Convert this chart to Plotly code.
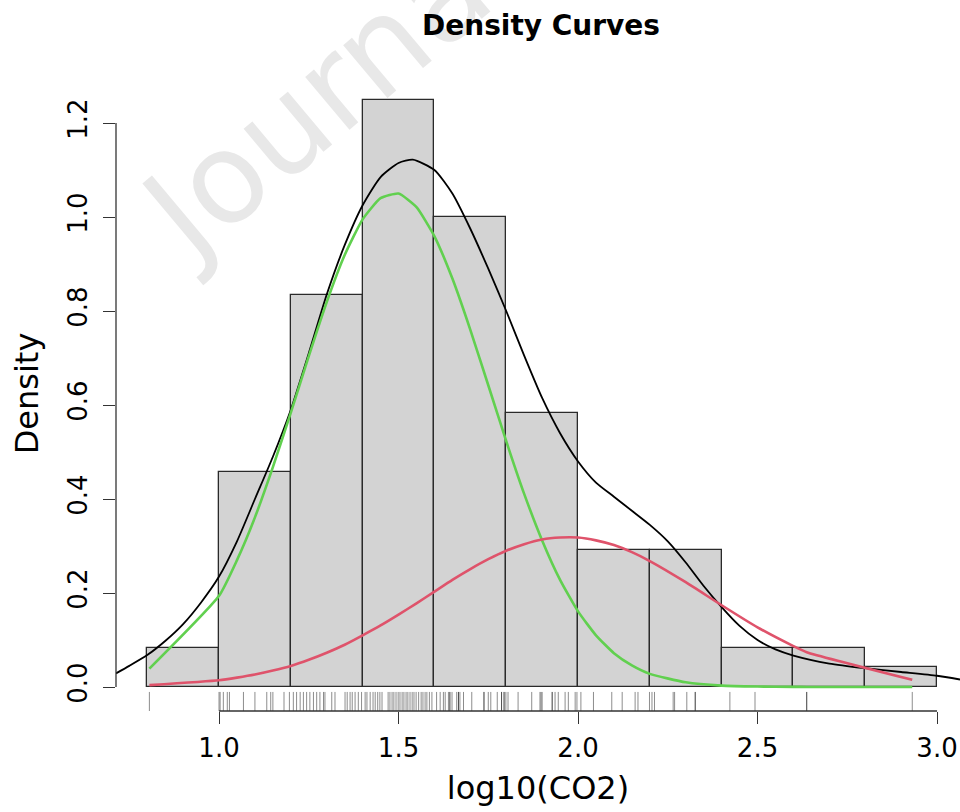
import plotly.graph_objects as go

# ---------------- data ----------------
bin_edges = [0.8, 1.0, 1.2, 1.4, 1.6, 1.8, 2.0, 2.2, 2.4, 2.6, 2.8, 3.0]
bin_density = [0.0833, 0.4583, 0.8333, 1.25, 1.0, 0.5833, 0.2917, 0.2917, 0.0833, 0.0833, 0.0417]

rug_values = [
    0.806, 1.000,
    1.003, 1.012, 1.023, 1.029, 1.068, 1.100, 1.133, 1.144, 1.150, 1.181, 1.196,
    1.207, 1.216, 1.226, 1.235, 1.244, 1.253, 1.263, 1.272, 1.281, 1.291, 1.295,
    1.314, 1.323, 1.351, 1.357, 1.365, 1.371, 1.379, 1.388, 1.397,
    1.407, 1.412, 1.421, 1.429, 1.435, 1.442, 1.448, 1.454, 1.471, 1.476, 1.482,
    1.487, 1.493, 1.499, 1.504, 1.510, 1.515, 1.521, 1.526, 1.532, 1.538, 1.543,
    1.549, 1.556, 1.563, 1.568, 1.574, 1.579, 1.586, 1.593,
    1.606, 1.616, 1.625, 1.630, 1.639, 1.643, 1.643, 1.649, 1.662, 1.667, 1.667,
    1.671, 1.681, 1.704, 1.738, 1.738, 1.750, 1.757, 1.775, 1.787, 1.787, 1.794,
    1.794, 1.799,
    1.805, 1.833, 1.871, 1.894, 1.897, 1.900, 1.928, 1.928, 1.936, 1.945, 1.964,
    1.973, 1.992, 1.997,
    2.008, 2.043, 2.094, 2.123, 2.159, 2.167, 2.199,
    2.206, 2.213, 2.265, 2.269, 2.303, 2.326, 2.327,
    2.423, 2.493, 2.637, 2.637, 2.931,
]

kde_x = [0.713, 0.75, 0.8, 0.85, 0.9, 0.95, 1.0, 1.05, 1.1, 1.15, 1.2, 1.25, 1.3,
         1.35, 1.4, 1.45, 1.5, 1.54, 1.6, 1.65, 1.7, 1.75, 1.8, 1.85, 1.9, 1.95,
         2.0, 2.05, 2.1, 2.15, 2.2, 2.25, 2.3, 2.35, 2.4, 2.45, 2.5, 2.55, 2.6,
         2.7, 2.8, 2.9, 3.0, 3.064]
kde_y = [0.029, 0.045, 0.068, 0.098, 0.134, 0.180, 0.235, 0.310, 0.400, 0.490,
         0.590, 0.710, 0.835, 0.940, 1.025, 1.085, 1.115, 1.122, 1.100, 1.050,
         0.975, 0.890, 0.800, 0.705, 0.615, 0.540, 0.480, 0.435, 0.405, 0.375,
         0.345, 0.310, 0.265, 0.215, 0.170, 0.130, 0.100, 0.080, 0.067, 0.050,
         0.040, 0.032, 0.024, 0.016]

comp_x = [0.806, 1.0, 1.05, 1.1, 1.15, 1.2, 1.25, 1.3, 1.35, 1.4, 1.45, 1.5, 1.55,
          1.6, 1.65, 1.7, 1.75, 1.8, 1.85, 1.9, 1.95, 2.0, 2.05, 2.1, 2.15, 2.2,
          2.3, 2.4, 2.5, 2.6, 2.637, 2.931]
green_y = [0.039, 0.194, 0.270, 0.361, 0.468, 0.584, 0.704, 0.819, 0.919, 0.995,
           1.040, 1.050, 1.021, 0.959, 0.869, 0.760, 0.642, 0.523, 0.411, 0.312,
           0.228, 0.161, 0.110, 0.072, 0.046, 0.028, 0.010, 0.003, 0.001, 0.0003,
           0.0002, 0.0]
red_y = [0.004, 0.0145, 0.020, 0.0265, 0.035, 0.045, 0.058, 0.073, 0.090, 0.110,
         0.131, 0.154, 0.178, 0.203, 0.228, 0.251, 0.272, 0.290, 0.304, 0.314,
         0.318, 0.318, 0.312, 0.302, 0.287, 0.268, 0.223, 0.174, 0.127, 0.087,
         0.074, 0.0153]

x_ticks = [1.0, 1.5, 2.0, 2.5, 3.0]
x_tick_labels = ["1.0", "1.5", "2.0", "2.5", "3.0"]
y_ticks = [0.0, 0.2, 0.4, 0.6, 0.8, 1.0, 1.2]
y_tick_labels = ["0.0", "0.2", "0.4", "0.6", "0.8", "1.0", "1.2"]

# ---------------- figure ----------------
FONT = "DejaVu Sans"
X_RANGE = [0.713, 3.064]
Y_RANGE = [-0.051, 1.30]

centers = [(a + b) / 2 for a, b in zip(bin_edges[:-1], bin_edges[1:])]
widths = [b - a for a, b in zip(bin_edges[:-1], bin_edges[1:])]

fig = go.Figure()
fig.add_trace(go.Bar(x=centers, y=bin_density, width=widths,
                     marker=dict(color="#d3d3d3", line=dict(color="#2a2a2a", width=1.3)),
                     showlegend=False, hoverinfo="skip"))

rug_y0 = Y_RANGE[0]
rug_y1 = Y_RANGE[0] + 0.03 * (Y_RANGE[1] - Y_RANGE[0])
rx, ry = [], []
for v in rug_values:
    rx += [v, v, None]
    ry += [rug_y0, rug_y1, None]
fig.add_trace(go.Scatter(x=rx, y=ry, mode="lines",
                         line=dict(color="rgba(0,0,0,0.45)", width=1),
                         showlegend=False, hoverinfo="skip"))

fig.add_trace(go.Scatter(x=kde_x, y=kde_y, mode="lines",
                         line=dict(color="black", width=1.8, shape="spline", smoothing=0.6),
                         showlegend=False))
fig.add_trace(go.Scatter(x=comp_x, y=green_y, mode="lines",
                         line=dict(color="#61D04F", width=2.6, shape="spline", smoothing=0.5),
                         showlegend=False))
fig.add_trace(go.Scatter(x=comp_x, y=red_y, mode="lines",
                         line=dict(color="#DF536B", width=2.6, shape="spline", smoothing=0.5),
                         showlegend=False))

# R-style axis lines spanning only the tick range
fig.add_shape(type="line", xref="x", yref="paper", x0=x_ticks[0], x1=x_ticks[-1],
              y0=0, y1=0, line=dict(color="#333", width=1.3))
fig.add_shape(type="line", xref="paper", yref="y", x0=0, x1=0,
              y0=y_ticks[0], y1=y_ticks[-1], line=dict(color="#333", width=1.3))

# watermark (drawn first so the title sits on top of it)
fig.add_annotation(text="Journal", xref="paper", yref="paper", x=0.252, y=0.977,
                   xanchor="center", yanchor="middle",
                   showarrow=False, textangle=-40,
                   font=dict(family=FONT, size=126, color="#e8e8e8"))

# main title
fig.add_annotation(text="<b>Density Curves</b>", xref="paper", yref="paper",
                   x=0.504, y=(711 - 25) / 635, xanchor="center", yanchor="middle",
                   showarrow=False,
                   font=dict(family=FONT, size=28, color="black"))

fig.update_layout(
    width=960, height=812,
    margin=dict(l=116, r=0, t=76, b=101, autoexpand=False),
    paper_bgcolor="white", plot_bgcolor="white",
    font=dict(family=FONT, color="black"),
    bargap=0,
    xaxis=dict(range=X_RANGE, showgrid=False, zeroline=False, showline=False,
               tickmode="array", tickvals=x_ticks, ticktext=x_tick_labels,
               ticks="outside", ticklen=12, tickwidth=1.3, tickcolor="#333",
               tickfont=dict(family=FONT, size=26, color="black"),
               ticklabelstandoff=2,
               title=dict(text="log10(CO2)", font=dict(family=FONT, size=32), standoff=14)),
    yaxis=dict(range=Y_RANGE, showgrid=False, zeroline=False, showline=False,
               tickmode="array", tickvals=y_ticks, ticktext=y_tick_labels,
               ticks="outside", ticklen=12, tickwidth=1.3, tickcolor="#333",
               tickangle=-90,
               tickfont=dict(family=FONT, size=26, color="black"),
               ticklabelstandoff=6,
               title=dict(text="Density", font=dict(family=FONT, size=32), standoff=14)),
)

fig.write_html("out.html")
